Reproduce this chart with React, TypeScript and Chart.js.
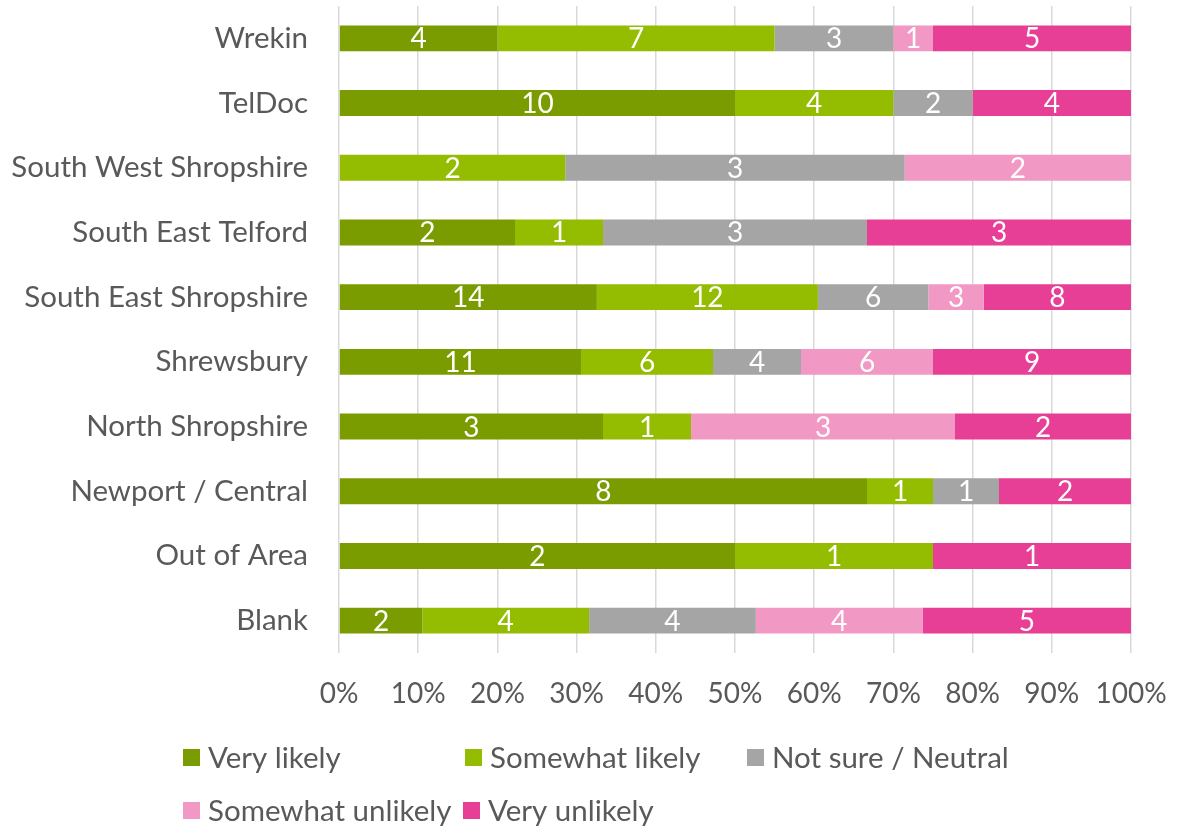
import React, { useEffect, useRef } from "react";
import { Chart, registerables } from "chart.js";

Chart.register(...registerables);

const categories = [
  "Wrekin",
  "TelDoc",
  "South West Shropshire",
  "South East Telford",
  "South East Shropshire",
  "Shrewsbury",
  "North Shropshire",
  "Newport / Central",
  "Out of Area",
  "Blank",
];
const seriesNames = ["Very likely", "Somewhat likely", "Not sure / Neutral", "Somewhat unlikely", "Very unlikely"];
const veryLikely = [4, 10, 0, 2, 14, 11, 3, 8, 2, 2];
const somewhatLikely = [7, 4, 2, 1, 12, 6, 1, 1, 1, 4];
const notSure = [3, 2, 3, 3, 6, 4, 0, 1, 0, 4];
const somewhatUnlikely = [1, 0, 2, 0, 3, 6, 3, 0, 0, 4];
const veryUnlikely = [5, 4, 0, 3, 8, 9, 2, 2, 1, 5];
const xTickValues = [0, 10, 20, 30, 40, 50, 60, 70, 80, 90, 100];

const seriesCounts = [veryLikely, somewhatLikely, notSure, somewhatUnlikely, veryUnlikely];
const seriesColors = ["#7A9C01", "#94BC00", "#A5A5A5", "#F298C4", "#E73F96"];

const FONT = "Lato";
const TEXT = "#595959";

const legendPos = [
  [183, 757],
  [465, 757],
  [747, 757],
  [183, 810],
  [463, 810],
];

function zeroPad(axis: any) {
  axis.paddingTop = 0;
  axis.paddingBottom = 0;
  axis.paddingLeft = 0;
  axis.paddingRight = 0;
}

export default function App() {
  const ref = useRef<HTMLCanvasElement>(null);
  useEffect(() => {
    document.body.style.margin = "0";
    const totals = categories.map((_, i) => seriesCounts.reduce((s, arr) => s + arr[i], 0));
    const datasets = seriesNames.map((name, k) => ({
      label: name,
      data: seriesCounts[k].map((v, i) => (v / totals[i]) * 100),
      counts: seriesCounts[k],
      backgroundColor: seriesColors[k],
      borderWidth: 0,
      barPercentage: 0.4,
      categoryPercentage: 1,
    }));

    const labelPlugin = {
      id: "segLabels",
      afterDatasetsDraw(chart: any) {
        const ctx = chart.ctx;
        ctx.save();
        ctx.fillStyle = "#ffffff";
        ctx.font = `28px ${FONT}`;
        ctx.textAlign = "center";
        ctx.textBaseline = "middle";
        chart.data.datasets.forEach((ds: any, di: number) => {
          const meta = chart.getDatasetMeta(di);
          meta.data.forEach((el: any, i: number) => {
            const c = ds.counts[i];
            if (!c) return;
            const x = (el.x + el.base) / 2;
            ctx.fillText(String(c), x, el.y + 1);
          });
        });
        ctx.restore();
      },
    };

    const legendPlugin = {
      id: "customLegend",
      afterDraw(chart: any) {
        const ctx = chart.ctx;
        ctx.save();
        ctx.font = `29.5px ${FONT}`;
        ctx.textBaseline = "middle";
        ctx.textAlign = "left";
        chart.data.datasets.forEach((ds: any, i: number) => {
          const [x, y] = legendPos[i];
          ctx.fillStyle = ds.backgroundColor;
          ctx.fillRect(x, y - 8, 17, 17);
          ctx.fillStyle = TEXT;
          ctx.fillText(ds.label, x + 25, y + 1);
        });
        ctx.restore();
      },
    };

    const chart = new Chart(ref.current!, {
      type: "bar",
      data: { labels: categories, datasets: datasets as any },
      options: {
        indexAxis: "y",
        animation: false,
        responsive: false,
        maintainAspectRatio: false,
        layout: { padding: { top: 6, right: 46, left: 0, bottom: 0 } },
        plugins: { legend: { display: false }, tooltip: { enabled: false } },
        scales: {
          x: {
            stacked: true,
            min: 0,
            max: 100,
            afterBuildTicks(axis: any) {
              axis.ticks = xTickValues.map((v) => ({ value: v }));
            },
            afterFit(axis: any) {
              axis.height = 831 - 653;
              zeroPad(axis);
            },
            grid: { color: "#D9D9D9", lineWidth: 1.5, drawTicks: false },
            border: { display: false },
            ticks: {
              padding: 24,
              color: TEXT,
              font: { family: FONT, size: 28 },
              callback: (v: any) => `${v}%`,
              maxRotation: 0,
              autoSkip: false,
            },
          },
          y: {
            stacked: true,
            afterFit(axis: any) {
              axis.width = 339;
              zeroPad(axis);
            },
            grid: { display: false, drawTicks: false },
            border: { display: false },
            ticks: {
              padding: 31,
              color: TEXT,
              font: { family: FONT, size: 29.5 },
            },
          },
        },
      },
      plugins: [labelPlugin, legendPlugin],
    });
    return () => chart.destroy();
  }, []);
  return <canvas ref={ref} width={1177} height={831} style={{ display: "block" }} />;
}
